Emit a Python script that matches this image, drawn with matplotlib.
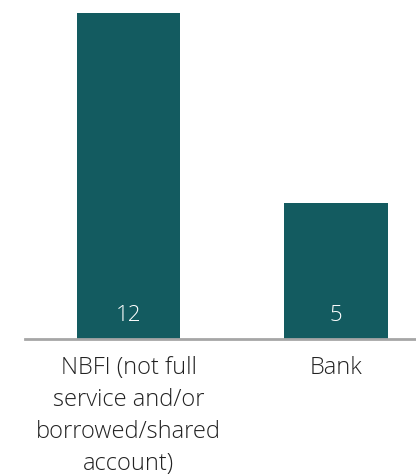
import matplotlib
matplotlib.use("Agg")
import matplotlib.pyplot as plt

categories = ["NBFI (not full\nservice and/or\nborrowed/shared\naccount)", "Bank"]
values = [12, 5]

W, H = 416, 476
fig = plt.figure(figsize=(W / 100, H / 100), dpi=100)

base_y = 339
top_y = 12.5
ax = fig.add_axes([25 / W, (H - base_y) / H, (W - 25) / W, (base_y - top_y) / H])

bar_color = "#135b60"
x = list(range(len(values)))
ax.bar(x, values, width=0.5, color=bar_color)
ax.set_xlim(-0.5, 1.386)
ax.set_ylim(0, 12)

for xi, v in zip(x, values):
    ax.text(xi, 0.85, str(v), ha="center", va="center", color="white",
            fontsize=16, family="Open Sans", fontweight="light")

ax.set_xticks(x)
ax.set_xticklabels(categories, fontsize=17, family="Open Sans", fontweight="light",
                   color="#222222", linespacing=1.45, va="top")
ax.tick_params(axis="x", length=0, pad=12)
ax.set_yticks([])

for s in ["top", "right", "left"]:
    ax.spines[s].set_visible(False)
ax.spines["bottom"].set_color("#a6a6a6")
ax.spines["bottom"].set_linewidth(2)

fig.savefig("out.png", dpi=100)
